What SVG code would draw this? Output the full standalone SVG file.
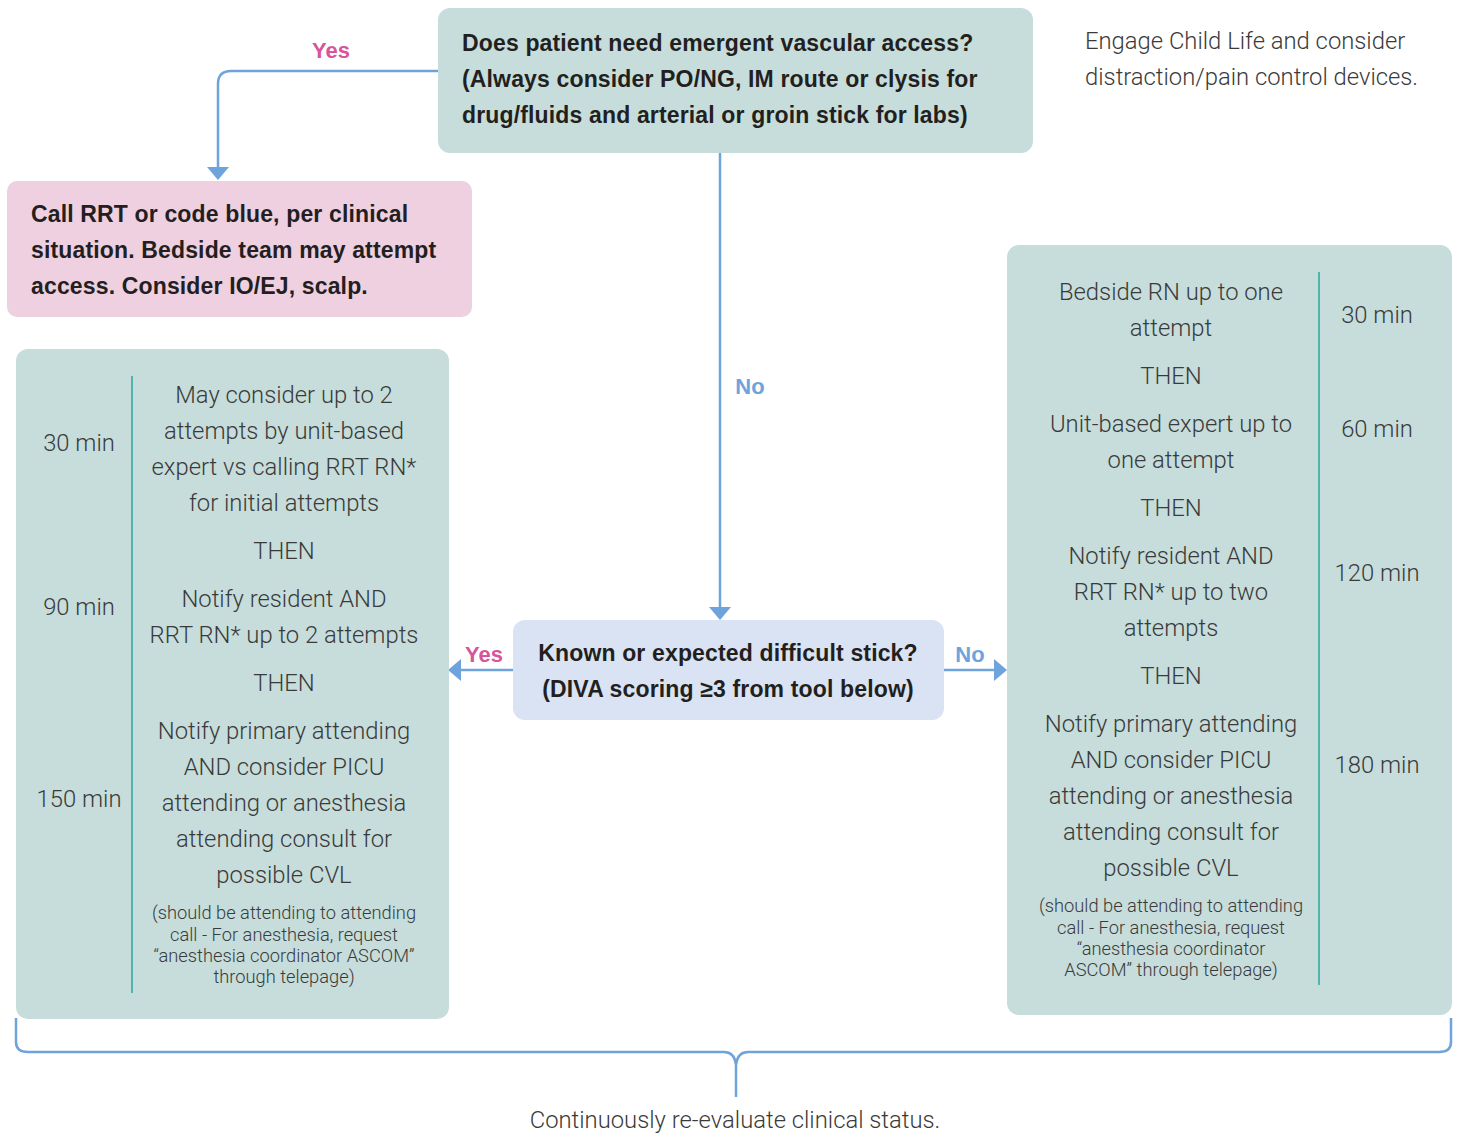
<svg xmlns="http://www.w3.org/2000/svg" width="1459" height="1133" viewBox="0 0 1459 1133">
<defs>
<style>
.teal{fill:#c6dddb}
.b{font-family:"Liberation Sans",Arial,sans-serif;font-weight:bold;font-size:23px;letter-spacing:0.15px;fill:#231f20}
.l{font-family:Roboto,"Liberation Sans",sans-serif;font-weight:300;font-size:23.8px;fill:#3a3a3a}
.s{font-family:Roboto,"Liberation Sans",sans-serif;font-weight:300;font-size:18.3px;fill:#3a3a3a}
.c{text-anchor:middle}
.yes{font-family:"Liberation Sans",Arial,sans-serif;font-weight:bold;font-size:22px;fill:#d6559b}
.no{font-family:"Liberation Sans",Arial,sans-serif;font-weight:bold;font-size:22px;fill:#6fa3dc}
.conn{fill:none;stroke:#6fa3dc;stroke-width:2.5}
.div{stroke:#2aa79f;stroke-width:1.5}
</style>
</defs>

<g id="connectors">
<path class="conn" d="M438,71 H231 Q218,71 218,84 V168" />
<path d="M207,167 L218,180 L229,167 z" fill="#6fa3dc"/>
<path class="conn" d="M720,153 V607" />
<path d="M709,607 L720,620 L731,607 z" fill="#6fa3dc"/>
<path class="conn" d="M513,670 H460" />
<path d="M461,659 L448,670 L461,681 z" fill="#6fa3dc"/>
<path class="conn" d="M944,670 H995" />
<path d="M994,659 L1007,670 L994,681 z" fill="#6fa3dc"/>
<text class="yes c" x="331" y="58">Yes</text>
<text class="no c" x="750" y="394">No</text>
<text class="yes c" x="484" y="662">Yes</text>
<text class="no c" x="970" y="662">No</text>
<path class="conn" d="M16,1018 V1042 Q16,1052 28,1052 H724 Q734,1052 736,1064 Q738,1052 748,1052 H1439 Q1451,1052 1451,1042 V1018" />
<path class="conn" d="M736,1062 V1097" />
</g>

<g id="n-question">
<rect x="438" y="8" width="595" height="145" rx="12" class="teal"/>
<text class="b" x="462" y="51">Does patient need emergent vascular access?</text>
<text class="b" x="462" y="87">(Always consider PO/NG, IM route or clysis for</text>
<text class="b" x="462" y="123">drug/fluids and arterial or groin stick for labs)</text>
</g>

<g id="n-note">
<text class="l" x="1085" y="49">Engage Child Life and consider</text>
<text class="l" x="1085" y="85">distraction/pain control devices.</text>
</g>

<g id="n-rrt">
<rect x="7" y="181" width="465" height="136" rx="10" fill="#eed0e0"/>
<text class="b" x="31" y="222">Call RRT or code blue, per clinical</text>
<text class="b" x="31" y="258">situation. Bedside team may attempt</text>
<text class="b" x="31" y="294">access. Consider IO/EJ, scalp.</text>
</g>

<g id="n-difficult">
<rect x="513" y="620" width="431" height="100" rx="12" fill="#d9e3f3"/>
<text class="b c" x="728" y="661">Known or expected difficult stick?</text>
<text class="b c" x="728" y="697">(DIVA scoring ≥3 from tool below)</text>
</g>

<g id="n-left">
<rect x="16" y="349" width="433" height="670" rx="12" class="teal"/>
<line class="div" x1="132" y1="376" x2="132" y2="993"/>
<text class="l c" x="79" y="451">30 min</text>
<text class="l c" x="79" y="615">90 min</text>
<text class="l c" x="79" y="807">150 min</text>
<text class="l c" x="284" y="403">May consider up to 2</text>
<text class="l c" x="284" y="439">attempts by unit-based</text>
<text class="l c" x="284" y="475">expert vs calling RRT RN*</text>
<text class="l c" x="284" y="511">for initial attempts</text>
<text class="l c" x="284" y="559">THEN</text>
<text class="l c" x="284" y="607">Notify resident AND</text>
<text class="l c" x="284" y="643">RRT RN* up to 2 attempts</text>
<text class="l c" x="284" y="691">THEN</text>
<text class="l c" x="284" y="739">Notify primary attending</text>
<text class="l c" x="284" y="775">AND consider PICU</text>
<text class="l c" x="284" y="811">attending or anesthesia</text>
<text class="l c" x="284" y="847">attending consult for</text>
<text class="l c" x="284" y="883">possible CVL</text>
<text class="s c" x="284" y="919">(should be attending to attending</text>
<text class="s c" x="284" y="941">call - For anesthesia, request</text>
<text class="s c" x="284" y="962">“anesthesia coordinator ASCOM”</text>
<text class="s c" x="284" y="983">through telepage)</text>
</g>

<g id="n-right">
<rect x="1007" y="245" width="445" height="770" rx="12" class="teal"/>
<line class="div" x1="1319" y1="272" x2="1319" y2="985"/>
<text class="l c" x="1377" y="323">30 min</text>
<text class="l c" x="1377" y="437">60 min</text>
<text class="l c" x="1377" y="581">120 min</text>
<text class="l c" x="1377" y="773">180 min</text>
<text class="l c" x="1171" y="300">Bedside RN up to one</text>
<text class="l c" x="1171" y="336">attempt</text>
<text class="l c" x="1171" y="384">THEN</text>
<text class="l c" x="1171" y="432">Unit-based expert up to</text>
<text class="l c" x="1171" y="468">one attempt</text>
<text class="l c" x="1171" y="516">THEN</text>
<text class="l c" x="1171" y="564">Notify resident AND</text>
<text class="l c" x="1171" y="600">RRT RN* up to two</text>
<text class="l c" x="1171" y="636">attempts</text>
<text class="l c" x="1171" y="684">THEN</text>
<text class="l c" x="1171" y="732">Notify primary attending</text>
<text class="l c" x="1171" y="768">AND consider PICU</text>
<text class="l c" x="1171" y="804">attending or anesthesia</text>
<text class="l c" x="1171" y="840">attending consult for</text>
<text class="l c" x="1171" y="876">possible CVL</text>
<text class="s c" x="1171" y="912">(should be attending to attending</text>
<text class="s c" x="1171" y="934">call - For anesthesia, request</text>
<text class="s c" x="1171" y="955">“anesthesia coordinator</text>
<text class="s c" x="1171" y="976">ASCOM” through telepage)</text>
</g>

<g id="n-footer">
<text class="l c" x="735" y="1128">Continuously re-evaluate clinical status.</text>
</g>
</svg>
